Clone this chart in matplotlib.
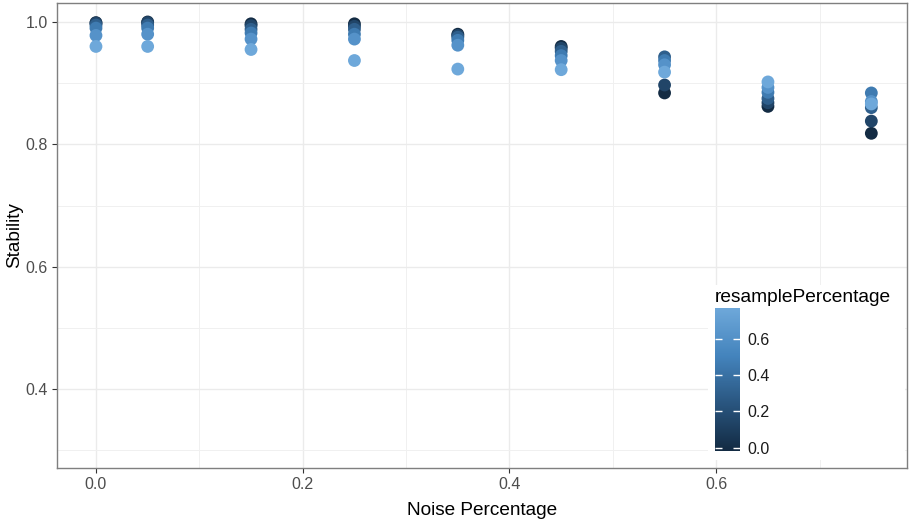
import numpy as np
import matplotlib
matplotlib.use('Agg')
import matplotlib.pyplot as plt
from matplotlib.colors import LinearSegmentedColormap
from matplotlib.ticker import MultipleLocator, FormatStrFormatter

matplotlib.rcParams['font.family'] = ['Liberation Sans', 'DejaVu Sans']

noise = [0.0, 0.05, 0.15, 0.25, 0.35, 0.45, 0.55, 0.65, 0.75]
resample = [0.0, 0.15, 0.30, 0.45, 0.60, 0.75]
# stability[i][j] -> noise[i], resample[j]
stability = [
    [0.999, 0.998, 0.995, 0.990, 0.978, 0.960],
    [1.000, 0.999, 0.995, 0.990, 0.980, 0.960],
    [0.997, 0.994, 0.988, 0.982, 0.972, 0.955],
    [0.997, 0.993, 0.988, 0.980, 0.972, 0.937],
    [0.980, 0.978, 0.975, 0.970, 0.962, 0.923],
    [0.960, 0.957, 0.952, 0.945, 0.937, 0.922],
    [0.884, 0.897, 0.943, 0.937, 0.930, 0.918],
    [0.862, 0.868, 0.875, 0.885, 0.893, 0.902],
    [0.818, 0.838, 0.860, 0.884, 0.870, 0.866],
]

x = np.repeat(noise, len(resample))
c = np.tile(resample, len(noise))
y = np.array(stability).ravel()

cmap = LinearSegmentedColormap.from_list(
    'gg', ['#132B43', '#2A5680', '#4484BD', '#6EA8DA'])
vmin, vmax = 0.0, 0.75

fig = plt.figure(figsize=(9.12, 5.22), dpi=100)
ax = fig.add_axes([57/912, 54/522, 850/912, 465/522])

ax.scatter(x, y, c=c, cmap=cmap, vmin=vmin, vmax=vmax, s=85, lw=0, zorder=3)

ax.set_xlim(-0.0377, 0.7845)
ax.set_ylim(0.271, 1.031)
ax.xaxis.set_major_locator(MultipleLocator(0.2))
ax.xaxis.set_minor_locator(MultipleLocator(0.1))
ax.yaxis.set_major_locator(MultipleLocator(0.2))
ax.yaxis.set_minor_locator(MultipleLocator(0.1))
ax.grid(which='major', color='#EBEBEB', lw=1.0, zorder=0)
ax.grid(which='minor', color='#F0F0F0', lw=0.7, zorder=0)
ax.set_axisbelow(True)
ax.tick_params(which='minor', length=0)
ax.tick_params(which='major', length=3.5, width=0.8, color='#333333',
               labelsize=11.5, labelcolor='#4D4D4D', pad=3)
ax.xaxis.set_major_formatter(FormatStrFormatter('%.1f'))
ax.yaxis.set_major_formatter(FormatStrFormatter('%.1f'))
for s in ax.spines.values():
    s.set_color('#7F7F7F')
    s.set_linewidth(1.0)
ax.set_xlabel('Noise Percentage', fontsize=13.7, labelpad=7)
ax.set_ylabel('Stability', fontsize=13.7, labelpad=2)

# legend box with colourbar
box = fig.add_axes([708/912, 62/522, 197/912, 175/522])
box.set_facecolor('white')
box.set_xticks([])
box.set_yticks([])
for s in box.spines.values():
    s.set_visible(False)
box.text(7/197, 1 - 13/175, 'resamplePercentage', transform=box.transAxes,
         fontsize=13.8, va='center', ha='left')

cax = fig.add_axes([715/912, 71/522, 25/912, 143/522])
pad = (vmax - vmin) / 20 / 2
grad = np.linspace(vmin, vmax, 200).reshape(-1, 1)
cax.imshow(grad, cmap=cmap, vmin=vmin, vmax=vmax, aspect='auto', origin='lower',
           extent=(0, 1, vmin - pad, vmax + pad))
cax.set_ylim(vmin - pad, vmax + pad)
cax.set_xlim(0, 1)
cax.set_xticks([])
cax.set_yticks([0.0, 0.2, 0.4, 0.6])
cax.yaxis.set_major_formatter(FormatStrFormatter('%.1f'))
cax.tick_params(axis='y', direction='in', left=True, right=True,
                labelleft=False, labelright=True, colors='white',
                labelcolor='#1A1A1A', labelsize=11.5, length=5, width=1, pad=5)
for s in cax.spines.values():
    s.set_visible(False)

fig.savefig('out.png', dpi=100)
